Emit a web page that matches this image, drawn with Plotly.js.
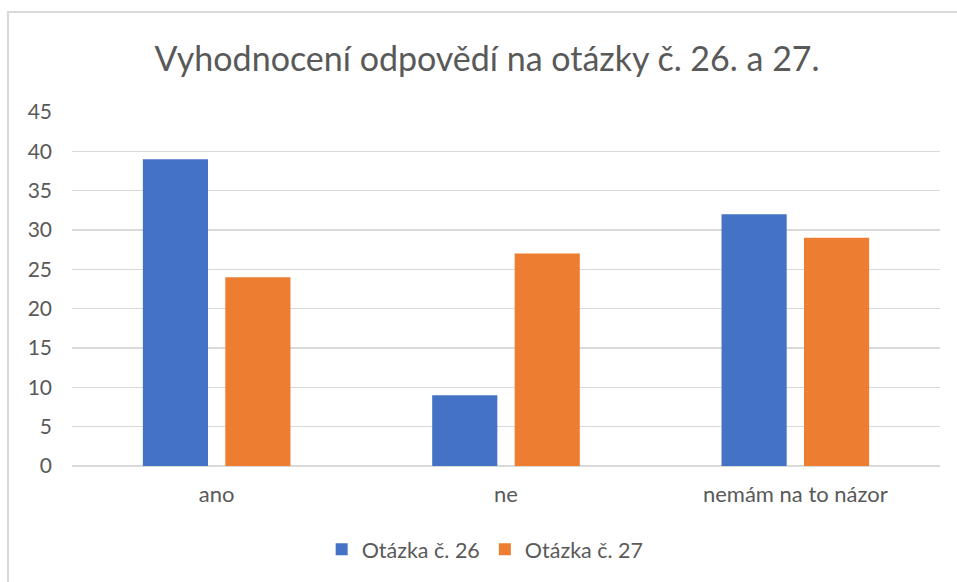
<!DOCTYPE html>
<html>
<head>
<meta charset="utf-8">
<script src="https://cdn.plot.ly/plotly-3.0.1.min.js"></script>
<style>
  html, body { margin: 0; padding: 0; background: #ffffff; overflow: hidden; }
  #frame { position: absolute; left: 7px; top: 11px; width: 1000px; height: 1000px;
           border: 2px solid #d9d9d9; box-sizing: border-box; pointer-events: none; z-index: 2; }
  #chart { position: absolute; left: 0; top: 0; width: 957px; height: 582px; }
</style>
</head>
<body>
<div id="chart"></div>
<div id="frame"></div>
<script>
const categories = ["ano", "ne", "nemám na to názor"];
const seriesNames = ["Otázka č. 26", "Otázka č. 27"];
const q26 = [39, 9, 32];
const q27 = [24, 27, 29];
const yTicks = [0, 5, 10, 15, 20, 25, 30, 35, 40, 45];
const titleText = "Vyhodnocení odpovědí na otázky č. 26. a 27.";

const FONT = "Lato, 'Open Sans', sans-serif";
const TXT = "#595959";

const traces = [
  { type: "bar", name: seriesNames[0], x: categories, y: q26,
    marker: { color: "#4472C4", line: { width: 0 } }, hoverinfo: "x+y" },
  { type: "bar", name: seriesNames[1], x: categories, y: q27,
    marker: { color: "#ED7D31", line: { width: 0 } }, hoverinfo: "x+y" }
];

const layout = {
  width: 957, height: 582,
  margin: { l: 72, r: 17, t: 112, b: 116 },
  paper_bgcolor: "rgba(0,0,0,0)",
  plot_bgcolor: "rgba(0,0,0,0)",
  font: { family: FONT, color: TXT, size: 20 },
  title: { text: titleText, font: { family: FONT, size: 34, color: TXT },
           xref: "container", yref: "container", x: 0.509, xanchor: "center",
           y: 1 - 59 / 582, yanchor: "middle" },
  barmode: "group",
  bargap: 0.43,
  bargroupgap: 0.21,
  xaxis: { type: "category", showgrid: false, zeroline: false,
           showline: false, ticks: "", ticklabelstandoff: 13,
           tickfont: { family: FONT, size: 22, color: TXT } },
  yaxis: { range: [0, 45], tickvals: yTicks, ticktext: yTicks.map(String),
           showgrid: true, gridcolor: "#d9d9d9", gridwidth: 1.5,
           zeroline: true, zerolinecolor: "#d9d9d9", zerolinewidth: 1.5,
           showline: false, ticks: "", ticklabelstandoff: 19,
           tickfont: { family: FONT, size: 21, color: TXT } },
  showlegend: true,
  legend: { orientation: "h", x: 0.476, xanchor: "center", y: -0.235, yanchor: "middle",
            font: { family: FONT, size: 21.5, color: TXT }, itemwidth: 30,
            bgcolor: "rgba(0,0,0,0)" }
};

Plotly.newPlot("chart", traces, layout, { displayModeBar: false, staticPlot: true });
</script>
</body>
</html>
